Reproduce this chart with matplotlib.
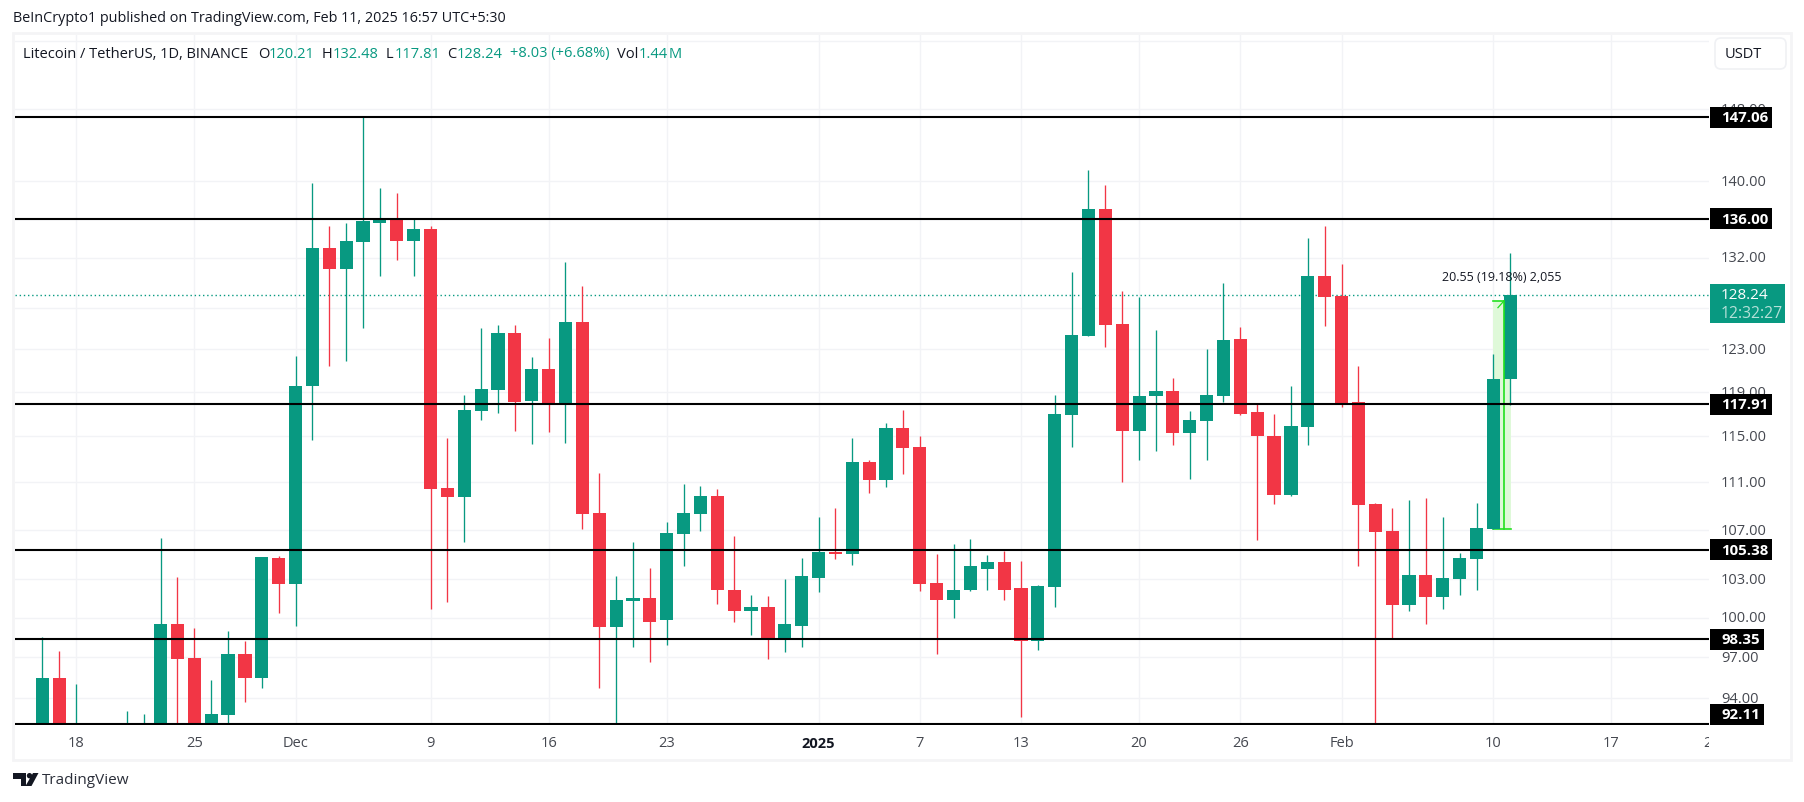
"""Litecoin / TetherUS daily candles with horizontal support and resistance levels."""

import matplotlib
matplotlib.use("Agg")
import matplotlib.dates as mdates
import matplotlib.pyplot as plt
import pandas as pd
from matplotlib.patches import Circle, FancyBboxPatch, Polygon, Rectangle
from matplotlib.transforms import Bbox, IdentityTransform

W, H = 1804, 803
UP = "#089981"
DOWN = "#f23645"
GRID = "#f2f3f6"
FRAME = "#f4f4f6"
FONT = "Open Sans"

# date, open, high, low, close (candles wholly under the pane are left out)
candles = [
    ("2024-11-16", 90.8, 98.55, 90.0, 95.5), ("2024-11-17", 95.5, 97.5, 90.0, 90.5),
    ("2024-11-18", 89.5, 95.05, 88.5, 91.5), ("2024-11-21", 89.0, 93.05, 88.0, 91.0),
    ("2024-11-22", 91.0, 92.85, 90.0, 92.15), ("2024-11-23", 92.1, 106.35, 91.5, 99.56),
    ("2024-11-24", 99.56, 103.19, 91.8, 96.88), ("2024-11-25", 96.95, 99.25, 91.8, 92.15),
    ("2024-11-26", 92.1, 95.35, 91.0, 92.85), ("2024-11-27", 92.78, 99.0, 91.9, 97.25),
    ("2024-11-28", 97.25, 98.25, 93.73, 95.5), ("2024-11-29", 95.5, 104.77, 94.76, 104.77),
    ("2024-11-30", 104.7, 104.85, 100.4, 102.6), ("2024-12-01", 102.6, 122.4, 99.4, 119.59),
    ("2024-12-02", 119.55, 139.8, 114.7, 133.0), ("2024-12-03", 133.0, 135.2, 121.4, 130.8),
    ("2024-12-04", 130.8, 135.6, 121.9, 133.7), ("2024-12-05", 133.6, 147.06, 125.0, 135.8),
    ("2024-12-06", 135.6, 139.3, 130.1, 136.0), ("2024-12-07", 136.0, 138.7, 131.8, 133.7),
    ("2024-12-08", 133.7, 136.0, 130.1, 134.9), ("2024-12-09", 134.9, 135.2, 100.65, 110.43),
    ("2024-12-10", 110.5, 114.85, 101.25, 109.75), ("2024-12-11", 109.75, 118.75, 106.05, 117.35),
    ("2024-12-12", 117.3, 125.0, 116.45, 119.3), ("2024-12-13", 119.2, 125.3, 117.1, 124.5),
    ("2024-12-14", 124.5, 125.3, 115.5, 118.05), ("2024-12-15", 118.15, 122.25, 114.35, 121.15),
    ("2024-12-16", 121.15, 124.05, 115.4, 117.9), ("2024-12-17", 117.9, 131.5, 114.45, 125.6),
    ("2024-12-18", 125.6, 129.1, 107.1, 108.3), ("2024-12-19", 108.4, 111.8, 94.75, 99.3),
    ("2024-12-20", 99.3, 103.3, 92.0, 101.4), ("2024-12-21", 101.3, 106.05, 97.75, 101.55),
    ("2024-12-22", 101.55, 103.95, 96.65, 99.7), ("2024-12-23", 99.8, 107.7, 97.9, 106.75),
    ("2024-12-24", 106.7, 110.85, 104.05, 108.4), ("2024-12-25", 108.3, 110.7, 106.95, 109.85),
    ("2024-12-26", 109.85, 110.45, 101.1, 102.15), ("2024-12-27", 102.2, 106.5, 99.7, 100.55),
    ("2024-12-28", 100.55, 101.75, 98.65, 100.8), ("2024-12-29", 100.8, 101.7, 96.9, 98.4),
    ("2024-12-30", 98.4, 103.0, 97.4, 99.5), ("2024-12-31", 99.4, 104.75, 97.75, 103.25),
    ("2025-01-01", 103.15, 108.1, 102.0, 105.2), ("2025-01-02", 105.2, 108.8, 104.6, 105.0),
    ("2025-01-03", 105.05, 114.9, 104.15, 112.8), ("2025-01-04", 112.8, 112.95, 110.1, 111.2),
    ("2025-01-05", 111.2, 116.2, 110.6, 115.75), ("2025-01-06", 115.75, 117.35, 111.75, 114.0),
    ("2025-01-07", 114.1, 115.0, 102.05, 102.6), ("2025-01-08", 102.7, 105.0, 97.25, 101.4),
    ("2025-01-09", 101.4, 105.85, 99.95, 102.2), ("2025-01-10", 102.15, 106.3, 102.05, 104.05),
    ("2025-01-11", 103.85, 104.95, 102.15, 104.4), ("2025-01-12", 104.4, 105.25, 101.4, 102.2),
    ("2025-01-13", 102.3, 104.5, 92.65, 98.25), ("2025-01-14", 98.25, 102.55, 97.55, 102.45),
    ("2025-01-15", 102.4, 118.75, 100.8, 117.05), ("2025-01-16", 116.95, 130.5, 114.1, 124.4),
    ("2025-01-17", 124.3, 141.2, 124.3, 137.0), ("2025-01-18", 137.0, 139.6, 123.2, 125.3),
    ("2025-01-19", 125.4, 128.65, 111.05, 115.5), ("2025-01-20", 115.5, 128.0, 112.95, 118.65),
    ("2025-01-21", 118.6, 124.8, 113.7, 119.1), ("2025-01-22", 119.1, 120.3, 114.25, 115.3),
    ("2025-01-23", 115.3, 117.25, 111.3, 116.45), ("2025-01-24", 116.35, 123.0, 112.9, 118.75),
    ("2025-01-25", 118.65, 129.4, 118.05, 123.85), ("2025-01-26", 123.95, 125.15, 116.95, 117.05),
    ("2025-01-27", 117.2, 117.9, 106.2, 115.05), ("2025-01-28", 115.05, 117.05, 109.15, 109.9),
    ("2025-01-29", 109.9, 119.55, 109.85, 115.9), ("2025-01-30", 115.8, 134.0, 114.25, 130.1),
    ("2025-01-31", 130.1, 135.3, 125.2, 128.0), ("2025-02-01", 128.1, 131.35, 117.6, 118.0),
    ("2025-02-02", 118.05, 121.45, 104.05, 109.05), ("2025-02-03", 109.15, 109.25, 92.0, 106.85),
    ("2025-02-04", 106.95, 108.8, 98.4, 101.0), ("2025-02-05", 101.0, 109.5, 100.5, 103.35),
    ("2025-02-06", 103.35, 109.65, 99.55, 101.65), ("2025-02-07", 101.65, 108.1, 100.65, 103.1),
    ("2025-02-08", 103.0, 105.1, 101.75, 104.7), ("2025-02-09", 104.6, 109.25, 102.2, 107.2),
    ("2025-02-10", 107.1, 122.5, 107.1, 120.21), ("2025-02-11", 120.21, 132.48, 117.81, 128.24),
]
df = pd.DataFrame(candles, columns=["date", "open", "high", "low", "close"])
df["x"] = mdates.date2num(pd.to_datetime(df["date"]))

levels = [147.06, 136.00, 117.91, 105.38, 98.35, 92.11]
price_ticks = [94, 97, 100, 103, 107, 111, 115, 119, 123, 127, 132, 136, 140, 148, 156]
price_labels = [94, 97, 100, 103, 107, 111, 115, 119, 123, 132, 140, 148]
day_ticks = [("2024-11-18", "18"), ("2024-11-25", "25"), ("2024-12-01", "Dec"),
             ("2024-12-09", "9"), ("2024-12-16", "16"), ("2024-12-23", "23"),
             ("2025-01-01", "2025"), ("2025-01-07", "7"), ("2025-01-13", "13"),
             ("2025-01-20", "20"), ("2025-01-26", "26"), ("2025-02-01", "Feb"),
             ("2025-02-10", "10"), ("2025-02-17", "17")]

fig = plt.figure(figsize=(W / 100, H / 100), dpi=100)
plt.rcParams["font.family"] = FONT


def fx(px):
    return px / W


def fy(px):
    return 1 - px / H


# outer frame of the published chart
fig.patches.append(Rectangle((fx(13), fy(761)), fx(1778), 727 / H, transform=fig.transFigure,
                             fill=False, edgecolor=FRAME, linewidth=2))

ax = fig.add_axes([fx(15), fy(726), fx(1694), 690 / H])
ax.set_yscale("log")
ax.set_ylim(92.07, 156.7)
x0 = mdates.date2num(pd.Timestamp("2024-11-18"))
ax.set_xlim(x0 - 3.63, x0 + 96.78)
for side in ax.spines.values():
    side.set_visible(False)

ax.set_yticks(price_ticks)
ax.set_yticklabels([])
ax.minorticks_off()
ax.set_xticks([mdates.date2num(pd.Timestamp(d)) for d, _ in day_ticks])
ax.set_xticklabels([])
ax.tick_params(length=0)
ax.grid(True, color=GRID, linewidth=1.0, zorder=0)
ax.set_axisbelow(True)

# price line of the last close
ax.axhline(128.24, color=UP, linewidth=1.0, linestyle=(0, (1, 2)), zorder=1)

# measure tool between the Feb 10 open and the top of the move
m_left = mdates.date2num(pd.Timestamp("2025-02-10"))
m_right = m_left + 1.04
m_mid = m_left + 0.62
ax.fill_between([m_left, m_right], 107.1, 127.65, color="#dff9d9", linewidth=0, zorder=1.5)
ax.plot([m_left, m_right], [107.1, 107.1], color="#22e01f", linewidth=1.2, zorder=1.6)
ax.plot([m_left, m_mid], [127.65, 127.65], color="#22e01f", linewidth=1.2, zorder=1.6)

width = 0.78
for row in df.itertuples():
    color = UP if row.close >= row.open else DOWN
    ax.vlines(row.x, row.low, row.high, color=color, linewidth=0.95, zorder=3)
    ax.bar(row.x, abs(row.close - row.open), width=width, bottom=min(row.open, row.close),
           color=color, linewidth=0, zorder=3)

ax.plot([m_mid, m_mid], [107.1, 127.65], color="#22e01f", linewidth=1.2, zorder=3.2)
ax.plot([m_mid - 0.35, m_mid], [127.0, 127.65], color="#22e01f", linewidth=0.9, zorder=3.2)

for level in levels:
    ax.axhline(level, color="black", linewidth=1.5, zorder=4)

ax.text(0.5 * (m_left + m_right) - 0.05, 130.05, "20.55 (19.18%) 2,055", fontsize=9, color="#131722",
        ha="center", va="center", zorder=5)


def price_y(price):
    return ax.transData.transform((x0, price))[1] / H


# price scale labels
for value in price_labels:
    fig.text(fx(1721), price_y(value), f"{value:.2f}", fontsize=10.5, color="#454850", ha="left",
             va="center")

# x axis labels
for date, label in day_ticks:
    x_num = mdates.date2num(pd.Timestamp(date))
    x_fig = ax.transData.transform((x_num, 100))[0] / W
    bold = label == "2025"
    fig.text(x_fig, fy(744), label, fontsize=10.5, color="#131722" if bold else "#454850",
             ha="center", va="center", fontweight="bold" if bold else "normal")
cut = fig.text(fx(1712), fy(744), "24", fontsize=10.5, color="#454850", ha="center", va="center")
cut.set_clip_box(Bbox([[0, 0], [1709, H]]))
cut.set_clip_on(True)

# level tags on the price scale, wide for six characters, narrow for five; clamped at the pane bottom
for level in levels:
    w = 62 if level >= 100 else 54
    tag_bottom = max(price_y(level) - 10.5 / H, fy(726))
    fig.patches.append(Rectangle((fx(1710), tag_bottom), fx(w), 21 / H, transform=fig.transFigure,
                                 facecolor="black", edgecolor="none", zorder=5))
    fig.text(fx(1721), tag_bottom + 10.5 / H, f"{level:.2f}", fontsize=10.8, color="white", ha="left",
             va="center", fontweight="bold", zorder=6)

# last price tag with countdown
fig.patches.append(Rectangle((fx(1710), fy(324)), fx(75), 39 / H, transform=fig.transFigure,
                             facecolor=UP, edgecolor="none", zorder=5))
fig.text(fx(1721), fy(296), "128.24", fontsize=11, color="white", ha="left", va="center", zorder=6)
fig.text(fx(1721), fy(314), "12:32:27", fontsize=11.3, color="#b5e0d8", ha="left", va="center", zorder=6)

# currency button
fig.patches.append(FancyBboxPatch((1715, H - 70), 71, 31, transform=IdentityTransform(),
                                  boxstyle="round,pad=0,rounding_size=6", facecolor="white",
                                  edgecolor="#f0f1f4", linewidth=1.2, zorder=5))
fig.text(fx(1743), fy(54), "USDT", fontsize=10.5, color="#131722", ha="center", va="center", zorder=6)

# header and symbol legend
fig.text(fx(13), fy(19), "BeInCrypto1 published on TradingView.com, Feb 11, 2025 16:57 UTC+5:30",
         fontsize=10.35, color="#131722", ha="left", va="center")
legend_parts = [
    (23, "Litecoin / TetherUS, 1D, BINANCE", "#131722"), (258, "O", "#131722"), (269, "120.21", UP),
    (322, "H", "#131722"), (333, "132.48", UP), (386, "L", "#131722"), (395, "117.81", UP),
    (447, "C", "#131722"), (457, "128.24", UP), (510, "+8.03 (+6.68%)", UP),
    (617, "Vol", "#131722"), (639, "1.44", UP), (669, "M", UP),
]
for px, text, color in legend_parts:
    fig.text(fx(px), fy(54), text, fontsize=10.5, color=color, ha="left", va="center")

# TradingView logo and name
logo_shapes = [
    [(13, 774), (26, 774), (26, 787), (20.5, 787), (20.5, 779.5), (13, 779.5)],
    [(33, 774), (38.5, 774), (31.5, 787), (25.5, 787)],
]
for shape in logo_shapes:
    fig.patches.append(Polygon([(a, H - b) for a, b in shape], transform=IdentityTransform(),
                               facecolor="#131722", edgecolor="none"))
fig.patches.append(Circle((29.5, H - 776.7), 2.7, transform=IdentityTransform(),
                          facecolor="#131722", edgecolor="none"))
fig.text(fx(42), fy(781), "TradingView", fontsize=11, color="#2a2e39", ha="left", va="center")

fig.savefig("out.png", dpi=100, facecolor="white")
plt.close(fig)
print("Saved out.png")
